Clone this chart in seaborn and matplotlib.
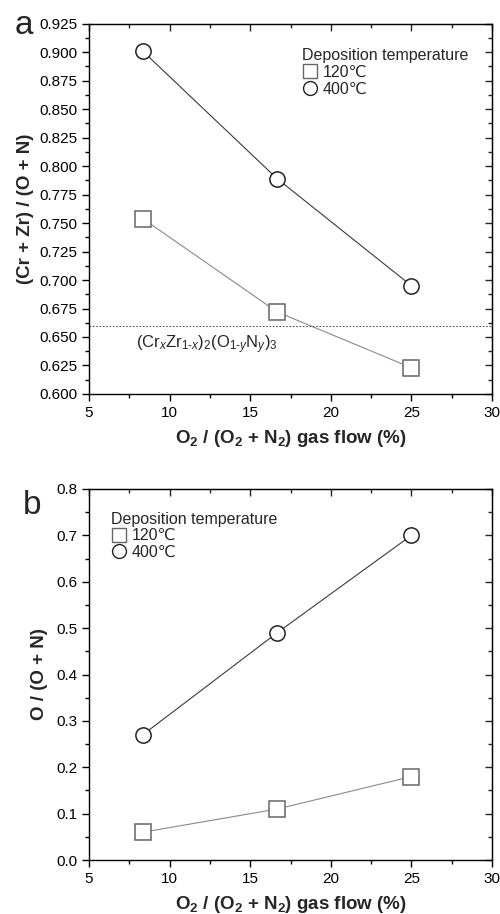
import numpy as np
import pandas as pd
import matplotlib
matplotlib.use("Agg")
import matplotlib.pyplot as plt
import seaborn as sns
from matplotlib.lines import Line2D
from matplotlib.ticker import AutoMinorLocator, MultipleLocator, FormatStrFormatter

sns.set_style("white")
plt.rcParams['font.family'] = ['Liberation Sans', 'DejaVu Sans']
plt.rcParams['mathtext.fontset'] = 'custom'
plt.rcParams['mathtext.rm'] = 'Liberation Sans'
plt.rcParams['mathtext.it'] = 'Liberation Sans:italic'
plt.rcParams['mathtext.bf'] = 'Liberation Sans:bold'

# data
o2_flow = [8.33, 16.67, 25.0]
ratio_120 = [0.754, 0.672, 0.623]
ratio_400 = [0.901, 0.789, 0.695]
o_frac_120 = [0.06, 0.11, 0.18]
o_frac_400 = [0.27, 0.49, 0.70]
stoich_line = 0.66
temps = ['120℃', '400℃']

col_120 = '#8a8a8a'
col_400 = '#3a3a3a'

fig = plt.figure(figsize=(5, 9.14), dpi=100)
ax1 = fig.add_axes([0.178, 0.569, 0.806, 0.405])
ax2 = fig.add_axes([0.178, 0.059, 0.806, 0.406])


def draw(ax, y120, y400):
    df = pd.DataFrame({'x': o2_flow * 2, 'y': list(y120) + list(y400),
                       'T': [temps[0]] * 3 + [temps[1]] * 3})
    for t, col, mk, ec in [(temps[0], col_120, 's', '#666666'),
                           (temps[1], col_400, 'o', '#222222')]:
        sub = df[df['T'] == t]
        sns.lineplot(data=sub, x='x', y='y', ax=ax, color=col, lw=0.8,
                     marker=mk, markersize=11, markerfacecolor='white',
                     markeredgecolor=ec, markeredgewidth=1.1, legend=False)


def style(ax):
    ax.set_xlim(5, 30)
    ax.xaxis.set_major_locator(MultipleLocator(5))
    ax.xaxis.set_minor_locator(AutoMinorLocator(2))
    ax.yaxis.set_minor_locator(AutoMinorLocator(2))
    for s in ax.spines.values():
        s.set_color('black')
        s.set_linewidth(1.0)
    ax.tick_params(which='both', bottom=True, left=True, top=False, right=False,
                   direction='out', labelsize=11, colors='black')
    ax.tick_params(which='major', length=5, width=1)
    ax.tick_params(which='minor', length=3, width=1)
    # inward ticks on top and right
    top = ax.secondary_xaxis('top')
    top.xaxis.set_major_locator(MultipleLocator(5))
    top.xaxis.set_minor_locator(AutoMinorLocator(2))
    top.tick_params(which='both', direction='in', labeltop=False)
    top.tick_params(which='major', length=5, width=1)
    top.tick_params(which='minor', length=3, width=1)
    right = ax.secondary_yaxis('right')
    right.yaxis.set_major_locator(ax.yaxis.get_major_locator())
    right.yaxis.set_minor_locator(AutoMinorLocator(2))
    right.tick_params(which='both', direction='in', labelright=False)
    right.tick_params(which='major', length=5, width=1)
    right.tick_params(which='minor', length=3, width=1)
    ax.set_xlabel('O$_\\mathbf{2}$ / (O$_\\mathbf{2}$ + N$_\\mathbf{2}$) gas flow (%)',
                  fontsize=13.5, fontweight='bold', labelpad=6)
    leg_handles = [
        Line2D([], [], ls='none', marker='s', markersize=10, markerfacecolor='white',
               markeredgecolor='#666666', markeredgewidth=1.0),
        Line2D([], [], ls='none', marker='o', markersize=10, markerfacecolor='white',
               markeredgecolor='#222222', markeredgewidth=1.0),
    ]
    return leg_handles


draw(ax1, ratio_120, ratio_400)
ax1.set_ylim(0.6, 0.925)
ax1.yaxis.set_major_locator(MultipleLocator(0.025))
ax1.yaxis.set_major_formatter(FormatStrFormatter('%.3f'))
h = style(ax1)
ax1.axhline(stoich_line, color='#555555', ls=(0, (1.5, 1.5)), lw=0.8)
ax1.text(7.9, 0.643, '(Cr$_x$Zr$_{1\\text{-}x}$)$_2$(O$_{1\\text{-}y}$N$_y$)$_3$',
         fontsize=12, va='center')
ax1.set_ylabel('(Cr + Zr) / (O + N)', fontsize=13.5, fontweight='bold', labelpad=4)
leg = ax1.legend(h, temps, title='Deposition temperature', loc='upper right',
                 bbox_to_anchor=(0.965, 0.96), frameon=False, fontsize=11.5,
                 title_fontsize=11.5, handletextpad=0.3, handlelength=1.0,
                 borderaxespad=0.2, labelspacing=0.1)
leg._legend_box.align = 'left'

draw(ax2, o_frac_120, o_frac_400)
ax2.set_ylim(0, 0.8)
ax2.yaxis.set_major_locator(MultipleLocator(0.1))
h = style(ax2)
ax2.set_ylabel('O / (O + N)', fontsize=13.5, fontweight='bold', labelpad=6)
leg = ax2.legend(h, temps, title='Deposition temperature', loc='upper left',
                 bbox_to_anchor=(0.03, 0.965), frameon=False, fontsize=11.5,
                 title_fontsize=11.5, handletextpad=0.3, handlelength=1.0,
                 borderaxespad=0.2, labelspacing=0.1)
leg._legend_box.align = 'left'

fig.text(0.03, 0.972, 'a', fontsize=24, va='center')
fig.text(0.045, 0.447, 'b', fontsize=24, va='center')

fig.savefig('out.png', dpi=100)
